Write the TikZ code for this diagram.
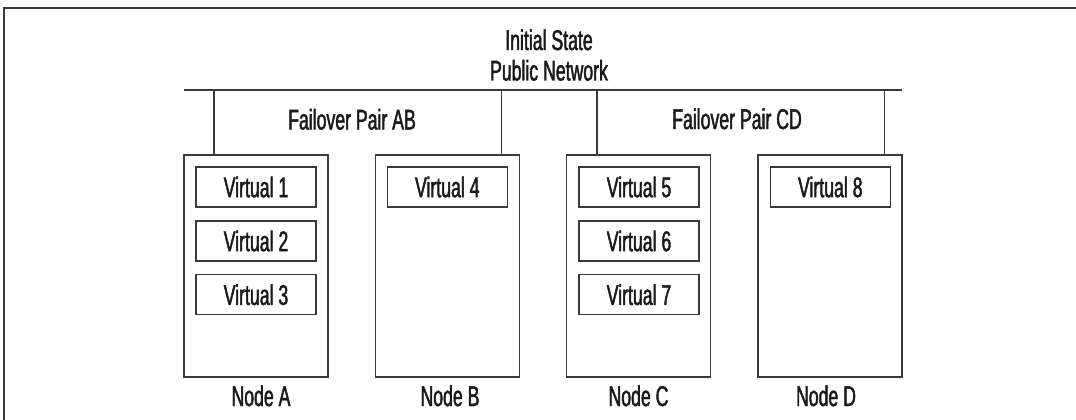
\documentclass[tikz,border=0pt]{standalone}
\usepackage{fontspec}
\setmainfont{Liberation Sans}[FakeStretch=0.62, FakeBold=1.6]
\definecolor{ln}{HTML}{3A3A3A}
\definecolor{tx}{HTML}{1A1A1A}
\begin{document}
\begin{tikzpicture}[x=1pt,y=-1pt,
  every node/.style={font=\fontsize{28.5}{30}\selectfont, text=tx},
  server/.style={draw=ln, line width=1.3pt, minimum width=144pt, minimum height=222pt, inner sep=0pt},
  vbox/.style={draw=ln, line width=1.3pt, minimum width=120pt, minimum height=40pt, inner sep=0pt},
  lbl/.style={anchor=base, inner sep=0pt},
  wire/.style={draw=ln, line width=1.3pt}]
\useasboundingbox (0,0) rectangle (1076,420);
\fill[white] (0,0) rectangle (1076,420);
% frame
\draw[ln, line width=2pt] (4,420) -- (4,8) -- (1076,8);
% titles
\node[lbl] (t1) at (549,50) {Initial State};
\node[lbl] (t2) at (549,80.5) {Public Network};
% network line
\coordinate (nl) at (184,90);
\coordinate (nr) at (902,90);
\draw[wire] (nl) -- (nr);
% servers
\node[server] (A) at (256,266) {};
\node[server] (B) at (447.7,266) {};
\node[server] (C) at (638.5,266) {};
\node[server] (D) at (830,266) {};
% drops
\coordinate (pA) at (214,90);
\coordinate (pB) at (501.5,90);
\coordinate (pC) at (597,90);
\coordinate (pD) at (884.3,90);
\draw[wire] (pA) -- (pA |- A.north);
\draw[wire] (pB) -- (pB |- B.north);
\draw[wire] (pC) -- (pC |- C.north);
\draw[wire] (pD) -- (pD |- D.north);
% pair labels
\node[lbl] (fab) at (352,129.5) {Failover Pair AB};
\node[lbl] (fcd) at (737,129) {Failover Pair CD};
% virtual boxes
\node[vbox] (v1) at (256,187) {Virtual 1};
\node[vbox] (v2) at (256,241) {Virtual 2};
\node[vbox] (v3) at (256,294.7) {Virtual 3};
\node[vbox] (v4) at (447.3,187) {Virtual 4};
\node[vbox] (v5) at (639,187) {Virtual 5};
\node[vbox] (v6) at (639,241) {Virtual 6};
\node[vbox] (v7) at (639,294.7) {Virtual 7};
\node[vbox] (v8) at (830.3,187) {Virtual 8};
% node labels
\node[lbl] (la) at (261,406) {Node A};
\node[lbl] (lb) at (450,406) {Node B};
\node[lbl] (lc) at (638.5,406) {Node C};
\node[lbl] (ld) at (826,406) {Node D};
\end{tikzpicture}
\end{document}
